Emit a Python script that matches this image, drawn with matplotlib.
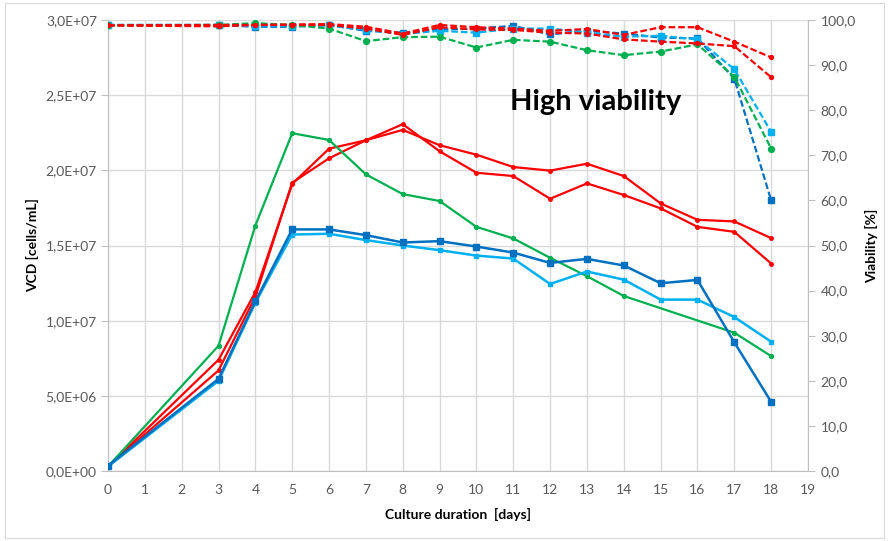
import matplotlib
matplotlib.use("Agg")
import matplotlib.pyplot as plt
from matplotlib.ticker import FuncFormatter, MultipleLocator
from matplotlib.patches import Rectangle

plt.rcParams['font.family'] = ['Lato', 'DejaVu Sans']

# ---------------- data ----------------
days = [0, 3, 4, 5, 6, 7, 8, 9, 10, 11, 12, 13, 14, 15, 16, 17, 18]
days_green_vcd = [0, 3, 4, 5, 6, 7, 8, 9, 10, 11, 12, 13, 14, 17, 18]

vcd_darkblue = [0.35e6, 6.13e6, 11.29e6, 16.07e6, 16.07e6, 15.69e6, 15.2e6, 15.29e6, 14.93e6,
                14.53e6, 13.84e6, 14.11e6, 13.67e6, 12.49e6, 12.71e6, 8.56e6, 4.6e6]
vcd_lightblue = [0.3e6, 6.0e6, 11.2e6, 15.73e6, 15.78e6, 15.36e6, 15.0e6, 14.69e6, 14.33e6,
                 14.13e6, 12.44e6, 13.27e6, 12.73e6, 11.4e6, 11.4e6, 10.24e6, 8.6e6]
vcd_green = [0.3e6, 8.33e6, 16.33e6, 22.47e6, 22.02e6, 19.73e6, 18.42e6, 17.96e6, 16.24e6,
             15.47e6, 14.18e6, 12.96e6, 11.64e6, 9.2e6, 7.64e6]
vcd_red1 = [0.3e6, 7.4e6, 11.9e6, 19.1e6, 21.44e6, 22.0e6, 22.69e6, 21.67e6, 21.04e6,
            20.22e6, 19.98e6, 20.44e6, 19.62e6, 17.8e6, 16.71e6, 16.6e6, 15.49e6]
vcd_red2 = [0.3e6, 6.69e6, 11.6e6, 19.18e6, 20.8e6, 22.0e6, 23.07e6, 21.27e6, 19.84e6,
            19.62e6, 18.11e6, 19.13e6, 18.36e6, 17.47e6, 16.24e6, 15.91e6, 13.8e6]

via_darkblue = [98.9, 98.9, 98.5, 98.5, 98.9, 97.6, 97.2, 97.9, 98.1, 98.7, 96.8, 97.6, 97.0,
                96.1, 95.9, 87.0, 60.0]
via_lightblue = [98.9, 98.9, 98.6, 98.7, 98.8, 97.8, 96.9, 97.6, 97.2, 98.1, 98.1, 97.2, 96.3,
                 96.5, 95.7, 89.1, 75.2]
via_green = [98.8, 98.9, 99.3, 98.9, 98.1, 95.3, 96.2, 96.3, 93.9, 95.6, 95.2, 93.3, 92.2,
             93.0, 94.6, 87.4, 71.5]
via_red1 = [98.8, 98.6, 98.9, 99.0, 99.1, 98.5, 97.0, 98.9, 98.4, 98.1, 97.6, 98.0, 96.7,
            98.4, 98.4, 95.2, 91.7]
via_red2 = [98.8, 98.9, 98.9, 98.9, 98.9, 98.1, 96.7, 98.4, 97.9, 97.8, 97.2, 97.0, 95.7,
            95.2, 94.8, 94.2, 87.3]

x_ticks = list(range(0, 20))
annotation = "High viability"

# ---------------- style ----------------
c_dark = "#0070C0"
c_light = "#00B0F0"
c_green = "#00B050"
c_red = "#FF0000"
grid_c = "#D9D9D9"
tick_c = "#595959"

fig = plt.figure(figsize=(8.89, 5.41), dpi=100)
fig.patches.append(Rectangle((0.006, 0.006), 0.988, 0.988, transform=fig.transFigure,
                             fill=False, edgecolor="#D9D9D9", linewidth=0.8))

ax = fig.add_axes([108 / 889, 70 / 541, 700 / 889, 451 / 541])
ax2 = ax.twinx()

# solid VCD lines
ax.plot(days, vcd_red1, color=c_red, lw=1.6, marker='o', ms=2.5, zorder=3)
ax.plot(days, vcd_red2, color=c_red, lw=1.6, marker='o', ms=2.5, zorder=3)
ax.plot(days_green_vcd, vcd_green, color=c_green, lw=1.6, marker='o', ms=2.8, zorder=3)
ax.plot(days, vcd_lightblue, color=c_light, lw=1.8, marker='s', ms=3.5, zorder=3)
ax.plot(days, vcd_darkblue, color=c_dark, lw=1.8, marker='s', ms=4.8, zorder=4)

# dashed viability lines
dash = (3.0, 1.3)
ax2.plot(days, via_darkblue, color=c_dark, lw=1.6, ls=(0, dash), marker='s', ms=4.8)
ax2.plot(days, via_lightblue, color=c_light, lw=1.6, ls=(0, dash), marker='s', ms=3.8)
ax2.plot(days, via_green, color=c_green, lw=1.6, ls=(0, dash), marker='o', ms=4.2)
ax2.plot(days, via_red2, color=c_red, lw=1.6, ls=(0, dash), marker='o', ms=2.8)
ax2.plot(days, via_red1, color=c_red, lw=1.6, ls=(0, dash), marker='o', ms=2.8)

# axes
ax.set_xlim(0, 19)
ax.set_ylim(0, 3.0e7)
ax2.set_ylim(0, 100)
ax.set_xticks(x_ticks)
ax.yaxis.set_major_locator(MultipleLocator(5e6))
ax2.yaxis.set_major_locator(MultipleLocator(10))
ax.yaxis.set_major_formatter(FuncFormatter(lambda v, p: f"{v:.1E}".replace('.', ',')))
ax2.yaxis.set_major_formatter(FuncFormatter(lambda v, p: f"{v:.1f}".replace('.', ',')))

ax.grid(True, color=grid_c, lw=1.0)
ax.set_axisbelow(True)
for sp in ['top']:
    ax.spines[sp].set_visible(False)
    ax2.spines[sp].set_visible(False)
ax.spines['left'].set_color("#BFBFBF")
ax.spines['bottom'].set_color("#BFBFBF")
ax.spines['right'].set_visible(False)
ax2.spines['left'].set_visible(False)
ax2.spines['bottom'].set_visible(False)
ax2.spines['right'].set_color("#BFBFBF")

ax.tick_params(axis='x', length=0, pad=9, labelsize=10, labelcolor=tick_c)
ax.tick_params(axis='y', length=5, color="#BFBFBF", pad=3, labelsize=10, labelcolor=tick_c)
ax2.tick_params(axis='y', length=5, color="#BFBFBF", pad=4, labelsize=10, labelcolor=tick_c)

ax.set_xlabel("Culture duration  [days]", fontsize=10, fontweight='bold', labelpad=9)
ax.set_ylabel("VCD [cells/mL]", fontsize=10, fontweight='bold', labelpad=5)
ax2.set_ylabel("Viability [%]", fontsize=10, fontweight='bold', labelpad=7)

ax.text(596 / 889, (541 - 102) / 541, annotation, transform=fig.transFigure,
        fontsize=21, fontweight='bold', ha='center', va='center', color='black')

fig.savefig("out.png", dpi=100)
